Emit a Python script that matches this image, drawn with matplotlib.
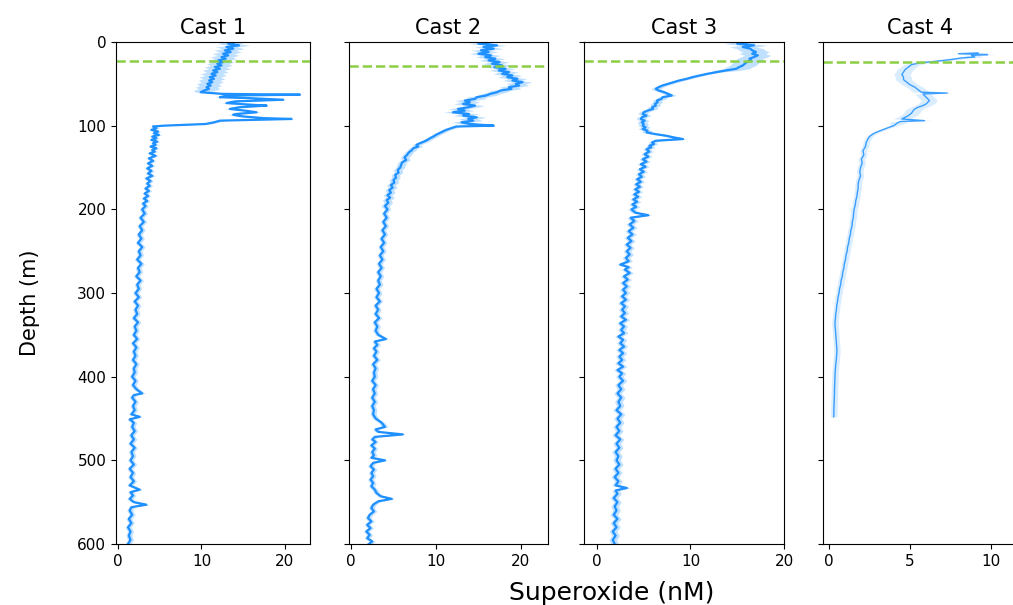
import numpy as np
import matplotlib
matplotlib.use("Agg")
import matplotlib.pyplot as plt

titles = ["Cast 1", "Cast 2", "Cast 3", "Cast 4"]
mld_depths = [23, 29, 23, 24]

# (depth m, superoxide nM)
cast1 = [
    (0, 14.0), (2, 13.2), (4, 14.5), (6, 13.0), (8, 13.8), (10, 12.8), (12, 13.5), (14, 12.6),
    (16, 13.2), (18, 12.4), (20, 12.9), (22, 12.0), (24, 12.6), (26, 11.9), (28, 12.4), (30, 11.6),
    (32, 12.2), (34, 11.4), (36, 11.9), (38, 11.2), (40, 11.7), (42, 11.0), (44, 11.5), (46, 10.9),
    (48, 11.3), (50, 10.7), (52, 11.1), (54, 10.6), (56, 10.9), (58, 10.3), (60, 9.9), (62, 12.5),
    (63, 21.8), (64, 13.0), (66, 12.2), (67, 15.5), (69, 19.8), (71, 14.0), (73, 13.0), (75, 16.0),
    (76, 17.8), (78, 14.5), (80, 13.4), (82, 15.2), (84, 16.6), (86, 14.2), (87, 13.8), (89, 15.0),
    (91, 17.5), (92, 20.8), (94, 12.2), (96, 11.5), (98, 10.5), (99, 8.0), (100, 5.5), (101, 4.2),
    (103, 4.6), (105, 4.0), (107, 4.8), (109, 4.3), (111, 4.9), (113, 4.1), (115, 4.6), (117, 4.0),
    (119, 4.7), (121, 4.2), (123, 4.5), (125, 3.9), (127, 4.6), (129, 4.1), (131, 4.4), (133, 3.8),
    (136, 4.5), (139, 3.7), (142, 4.2), (145, 3.6), (148, 4.1), (151, 3.5), (154, 4.0), (157, 3.6),
    (160, 4.1), (163, 3.4), (166, 3.9), (169, 3.5), (172, 3.8), (175, 3.3), (178, 3.7), (181, 3.2),
    (184, 3.6), (187, 3.1), (190, 3.5), (193, 3.0), (196, 3.3), (200, 2.9), (205, 3.2), (210, 2.7),
    (215, 3.1), (220, 2.6), (225, 2.9), (230, 2.5), (235, 2.8), (240, 2.4), (245, 2.9), (250, 2.5),
    (255, 2.7), (260, 2.3), (265, 2.8), (270, 2.4), (275, 2.6), (280, 2.2), (285, 2.7), (290, 2.3),
    (295, 2.5), (300, 2.1), (305, 2.5), (310, 2.0), (315, 2.4), (320, 2.1), (325, 2.3), (330, 1.9),
    (335, 2.4), (340, 2.0), (345, 2.2), (350, 1.9), (355, 2.3), (360, 1.8), (365, 2.2), (370, 1.9),
    (375, 2.1), (380, 1.8), (385, 2.2), (390, 1.9), (395, 2.0), (400, 1.7), (405, 2.1), (410, 1.8),
    (415, 2.2), (420, 2.9), (422, 1.9), (425, 1.7), (430, 2.1), (435, 1.8), (440, 2.0), (445, 1.6),
    (448, 2.6), (451, 1.4), (455, 1.9), (460, 1.7), (465, 2.0), (470, 1.6), (475, 1.9), (480, 1.5),
    (485, 2.0), (490, 1.6), (495, 1.8), (500, 1.5), (505, 1.9), (510, 1.4), (515, 1.8), (520, 1.5),
    (525, 1.9), (530, 1.4), (535, 2.6), (538, 1.5), (542, 1.8), (546, 1.4), (550, 1.9), (553, 3.4),
    (556, 1.6), (560, 1.4), (565, 1.7), (570, 1.3), (575, 1.6), (580, 1.2), (585, 1.5), (590, 1.3),
    (595, 1.5), (600, 1.2),
]

cast2 = [
    (0, 16.5), (2, 15.0), (4, 17.2), (6, 15.6), (8, 16.8), (10, 15.3), (12, 16.2), (14, 15.0),
    (16, 16.5), (18, 15.8), (20, 17.0), (22, 16.2), (24, 17.5), (26, 16.6), (28, 17.8), (30, 16.9),
    (32, 18.2), (34, 17.4), (36, 18.6), (38, 17.8), (40, 19.0), (42, 18.4), (44, 19.6), (46, 19.0),
    (48, 20.2), (50, 19.4), (52, 19.8), (54, 18.6), (56, 18.9), (58, 17.6), (60, 17.2), (62, 16.4),
    (64, 15.9), (66, 14.8), (68, 14.6), (70, 13.4), (72, 14.0), (74, 13.2), (76, 14.6), (78, 13.8),
    (80, 12.6), (82, 13.4), (84, 12.0), (86, 13.9), (88, 13.2), (90, 14.8), (92, 13.8), (94, 14.4),
    (96, 13.0), (98, 14.0), (100, 16.8), (101, 12.4), (103, 11.8), (105, 11.2), (107, 10.8), (109, 10.4),
    (111, 10.0), (113, 9.7), (115, 9.3), (117, 9.0), (119, 8.6), (121, 8.1), (123, 7.7), (125, 7.9),
    (127, 7.3), (129, 7.2), (132, 6.8), (135, 6.6), (138, 6.3), (141, 6.5), (144, 6.0), (147, 5.9),
    (150, 5.8), (153, 5.5), (156, 5.6), (159, 5.2), (162, 5.3), (165, 5.0), (168, 5.1), (171, 4.7),
    (174, 4.9), (177, 4.5), (180, 4.7), (183, 4.3), (186, 4.6), (189, 4.2), (192, 4.4), (196, 4.0),
    (200, 4.3), (205, 3.9), (210, 4.2), (215, 3.8), (220, 4.1), (225, 3.7), (230, 4.0), (235, 3.6),
    (240, 3.9), (245, 3.5), (250, 3.8), (255, 3.4), (260, 3.7), (265, 3.3), (270, 3.6), (275, 3.2),
    (280, 3.5), (285, 3.2), (290, 3.4), (295, 3.0), (300, 3.3), (305, 3.0), (310, 3.4), (315, 2.9),
    (320, 3.2), (325, 2.9), (330, 3.3), (335, 2.8), (340, 3.1), (345, 2.9), (350, 3.2), (355, 4.1),
    (358, 2.8), (362, 3.1), (366, 2.7), (370, 3.0), (375, 2.7), (380, 3.1), (385, 2.6), (390, 2.9),
    (395, 2.7), (400, 2.8), (405, 2.5), (410, 2.9), (415, 2.6), (420, 2.8), (425, 2.5), (430, 2.8),
    (435, 2.5), (440, 2.7), (445, 2.6), (450, 2.9), (455, 3.6), (460, 4.0), (463, 2.9), (466, 3.2),
    (469, 6.1), (472, 2.8), (475, 2.5), (478, 2.9), (482, 2.4), (486, 2.8), (490, 2.5), (494, 2.7),
    (497, 2.4), (500, 4.0), (503, 2.6), (507, 2.3), (511, 2.7), (515, 2.4), (519, 2.6), (523, 2.3),
    (527, 2.6), (531, 2.4), (535, 2.8), (539, 3.0), (543, 3.5), (546, 4.8), (549, 3.2), (553, 2.6),
    (557, 2.4), (561, 2.7), (565, 2.2), (569, 2.0), (573, 2.4), (577, 1.9), (581, 2.3), (585, 1.8),
    (589, 2.2), (593, 1.9), (597, 2.5), (600, 2.1),
]

cast3 = [
    (0, 16.2), (2, 15.0), (4, 16.8), (6, 15.6), (8, 16.4), (10, 16.6), (12, 17.0), (14, 16.6),
    (16, 17.2), (18, 16.8), (20, 16.3), (22, 16.5), (24, 16.0), (26, 15.8), (28, 15.6), (30, 15.2),
    (32, 14.9), (34, 13.8), (36, 12.8), (38, 11.8), (40, 11.0), (42, 10.2), (44, 9.6), (46, 8.8),
    (48, 8.2), (50, 7.6), (52, 7.0), (54, 6.6), (56, 6.3), (58, 6.6), (60, 7.2), (62, 7.6),
    (64, 8.0), (66, 7.0), (68, 6.9), (70, 6.4), (72, 6.5), (74, 6.2), (76, 6.3), (78, 5.9),
    (80, 6.0), (82, 5.4), (84, 5.0), (86, 4.9), (88, 5.3), (90, 4.8), (92, 4.7), (94, 5.1),
    (96, 4.8), (98, 5.0), (100, 4.9), (102, 5.2), (104, 4.9), (106, 5.4), (108, 5.3), (110, 6.2),
    (112, 7.4), (114, 8.2), (116, 9.2), (118, 6.3), (120, 5.9), (122, 6.1), (124, 5.6), (126, 5.8),
    (128, 5.3), (131, 5.6), (134, 5.1), (137, 5.5), (140, 4.9), (143, 5.3), (146, 4.7), (149, 5.2),
    (152, 4.6), (155, 5.0), (158, 4.5), (161, 4.8), (164, 4.3), (167, 4.7), (170, 4.2), (173, 4.6),
    (176, 4.1), (179, 4.5), (182, 4.0), (185, 4.4), (188, 3.9), (191, 4.3), (194, 3.8), (197, 4.2),
    (200, 3.7), (204, 4.1), (207, 5.5), (210, 3.6), (214, 4.0), (218, 3.5), (222, 3.9), (226, 3.4),
    (230, 3.8), (234, 3.3), (238, 3.7), (242, 3.2), (246, 3.6), (250, 3.2), (254, 3.5), (258, 3.1),
    (262, 3.4), (266, 2.5), (269, 3.4), (272, 3.0), (276, 3.5), (280, 2.9), (284, 3.3), (288, 2.8),
    (292, 3.2), (296, 2.8), (300, 3.1), (304, 2.7), (308, 3.1), (312, 2.6), (316, 3.0), (320, 2.7),
    (324, 3.0), (328, 2.6), (332, 3.1), (336, 2.5), (340, 2.9), (344, 2.6), (348, 2.9), (352, 2.3),
    (356, 2.8), (360, 2.5), (364, 2.9), (368, 2.4), (372, 2.8), (376, 2.4), (380, 2.7), (384, 2.3),
    (388, 2.8), (392, 2.2), (396, 2.7), (400, 2.4), (405, 2.8), (410, 2.3), (415, 2.6), (420, 2.2),
    (425, 2.6), (430, 2.3), (435, 2.5), (440, 2.1), (445, 2.6), (450, 2.2), (455, 2.5), (460, 2.1),
    (465, 2.4), (470, 2.0), (475, 2.5), (480, 2.1), (485, 2.4), (490, 2.0), (495, 2.3), (500, 2.1),
    (505, 2.4), (510, 2.0), (515, 2.3), (520, 1.9), (525, 2.3), (530, 2.0), (533, 3.2), (536, 2.0),
    (540, 2.2), (545, 1.8), (550, 2.2), (555, 1.9), (560, 2.1), (565, 1.8), (570, 2.2), (575, 1.8),
    (580, 2.1), (585, 1.7), (590, 2.0), (595, 1.7), (600, 1.9),
]

cast4 = [
    (13, 9.2), (14, 8.0), (15, 9.8), (16, 8.8), (18, 9.0), (19, 8.2), (21, 7.5), (23, 6.6),
    (25, 5.6), (27, 5.1), (30, 4.9), (33, 4.7), (36, 4.6), (39, 4.5), (42, 4.6), (45, 4.6),
    (48, 4.8), (51, 5.0), (54, 5.3), (57, 5.5), (60, 5.7), (61, 7.3), (62, 5.8), (64, 5.9),
    (66, 6.0), (68, 6.1), (70, 6.2), (72, 6.1), (74, 6.0), (76, 5.8), (78, 5.5), (80, 5.3),
    (82, 5.2), (85, 5.1), (88, 4.9), (90, 4.7), (92, 4.5), (94, 5.9), (95, 4.4), (97, 4.2),
    (100, 4.0), (102, 3.7), (105, 3.3), (108, 2.9), (110, 2.7), (113, 2.5), (116, 2.4), (120, 2.3),
    (125, 2.25), (130, 2.1), (135, 2.15), (140, 2.0), (145, 2.05), (150, 1.95), (155, 1.9), (160, 1.95),
    (165, 1.85), (170, 1.8), (175, 1.8), (180, 1.75), (185, 1.72), (190, 1.65), (195, 1.62), (200, 1.55),
    (205, 1.52), (210, 1.5), (215, 1.44), (220, 1.42), (225, 1.35), (230, 1.32), (235, 1.25), (240, 1.22),
    (245, 1.15), (250, 1.12), (255, 1.05), (260, 1.02), (265, 0.95), (270, 0.92), (275, 0.85), (280, 0.82),
    (285, 0.75), (290, 0.72), (295, 0.65), (300, 0.62), (305, 0.56), (310, 0.53), (315, 0.48), (320, 0.46),
    (325, 0.42), (330, 0.4), (335, 0.37), (340, 0.38), (345, 0.4), (350, 0.42), (355, 0.44), (360, 0.46),
    (365, 0.48), (370, 0.49), (375, 0.47), (380, 0.45), (385, 0.42), (390, 0.4), (395, 0.38), (400, 0.37),
    (405, 0.36), (410, 0.35), (415, 0.34), (420, 0.34), (425, 0.33), (430, 0.32), (435, 0.31), (440, 0.3),
    (445, 0.3), (448, 0.29),
]

# band half-widths (nM) by depth range: (upper depth limit, half width)
cast1_spread = [(60, 1.3), (100, 0.6), (601, 0.35)]
cast2_spread = [(100, 1.1), (200, 0.5), (601, 0.35)]
cast3_spread = [(35, 1.4), (120, 0.5), (601, 0.4)]
cast4_spread = [(100, 0.5), (601, 0.2)]

profiles = [cast1, cast2, cast3, cast4]
spreads = [cast1_spread, cast2_spread, cast3_spread, cast4_spread]
xlims = [(-0.24, 23.0), (-0.24, 23.2), (-1.38, 19.9), (-0.37, 11.67)]
xticks = [[0, 10, 20], [0, 10, 20], [0, 10, 20], [0, 5, 10]]

W, H = 1013, 605
fig = plt.figure(figsize=(W / 100, H / 100), dpi=100)
axes_px = [(116, 310), (349, 548), (584, 784), (823, 1018)]
top_px, bot_px = 42, 544

line_col = "#1E90FF"
for i, (prof, spr) in enumerate(zip(profiles, spreads)):
    l, r = axes_px[i]
    ax = fig.add_axes([l / W, 1 - bot_px / H, (r - l) / W, (bot_px - top_px) / H])
    arr = np.array(prof, dtype=float)
    d, v = arr[:, 0], arr[:, 1]
    lims = np.array([s[0] for s in spr])
    hw = np.array([s[1] for s in spr])[np.searchsorted(lims, d, side="right").clip(0, len(spr) - 1)]
    ax.fill_betweenx(d, v - hw, v + hw, color=line_col, alpha=0.28 if i < 3 else 0.16, lw=0)
    ax.plot(v, d, color=line_col, lw=1.6 if i < 3 else 1.0, alpha=1.0 if i < 3 else 0.85)
    ax.axhline(mld_depths[i], color="#8CCF45", ls="--", lw=1.8)
    ax.set_ylim(600, 0)
    ax.set_xlim(*xlims[i])
    ax.set_xticks(xticks[i])
    ax.set_yticks([0, 100, 200, 300, 400, 500, 600])
    if i > 0:
        ax.set_yticklabels([])
    ax.tick_params(labelsize=11)
    ax.set_title(titles[i], fontsize=15)

fig.text(612 / W, 1 - 593 / H, "Superoxide (nM)", ha="center", va="center", fontsize=18)
fig.text(30 / W, 0.5, "Depth (m)", ha="center", va="center", rotation=90, fontsize=15)

fig.savefig("out.png", dpi=100)
